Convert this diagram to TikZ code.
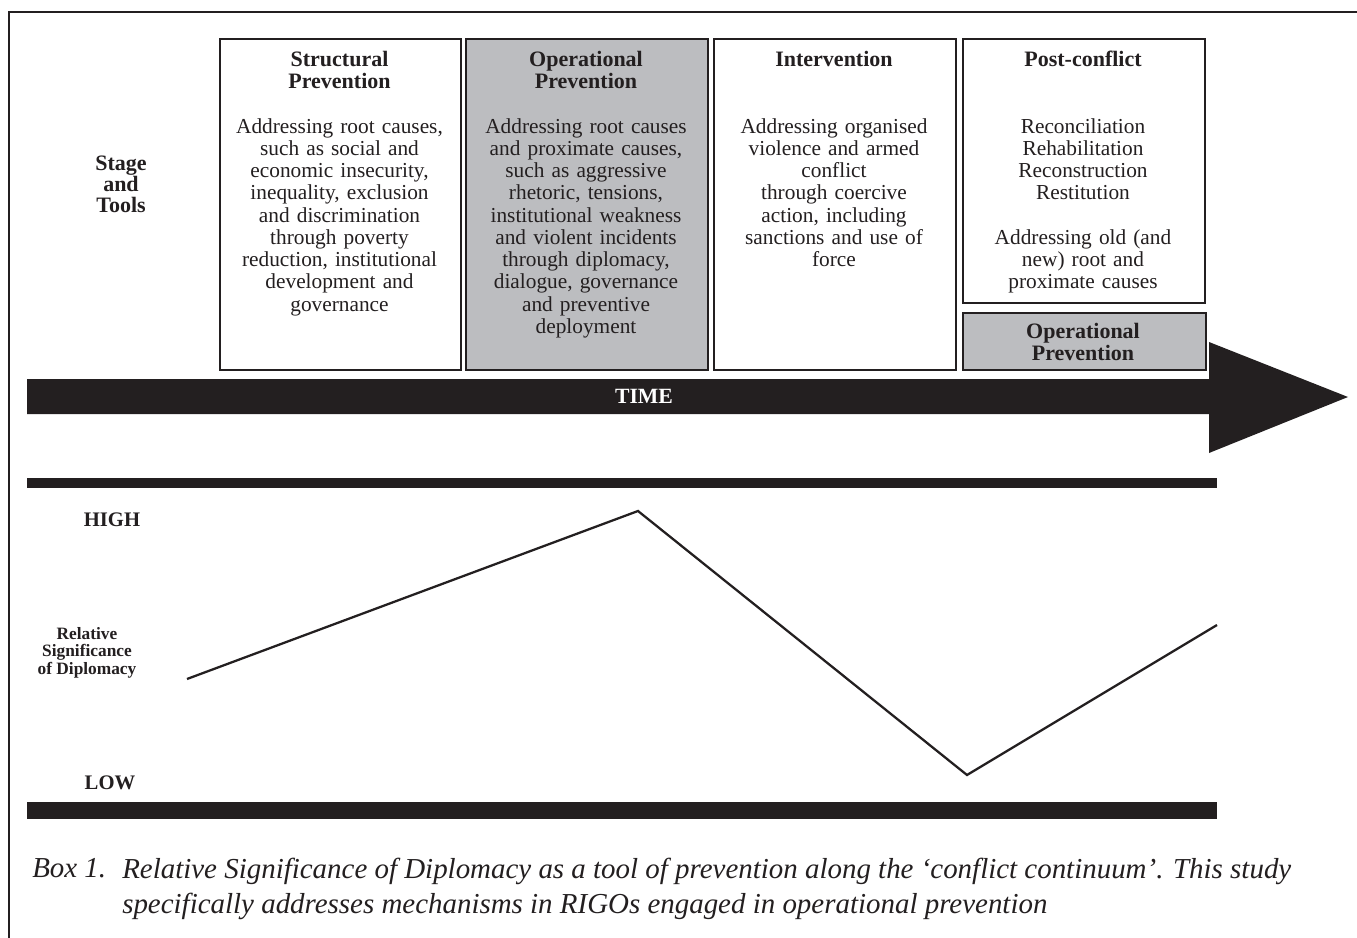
\documentclass[tikz,border=0pt]{standalone}
\usepackage{fontspec}
\setmainfont{Liberation Serif}
\definecolor{ink}{HTML}{231F20}
\definecolor{panel}{HTML}{BCBDC0}
\begin{document}
\begin{tikzpicture}[x=0.75pt,y=-0.75pt,
  stagebox/.style={draw=ink,line width=1.5pt,inner sep=0,anchor=north west},
  headtext/.style={anchor=north,align=center,inner sep=0,text=ink,font=\bfseries\fontsize{16.5}{16.5}\selectfont},
  bodytext/.style={anchor=north,align=center,inner sep=0,text=ink,text width=176pt,font=\fontsize{16}{16.7}\selectfont},
  sidelabel/.style={align=center,inner sep=0,text=ink},
  thickbar/.style={fill=ink}]
\useasboundingbox (0,0) rectangle (1357,938);
\fill[white] (0,0) rectangle (1357,938);
% outer frame
\draw[ink,line width=1pt] (9,940) -- (9,12) -- (1360,12);
% stage boxes
\node[stagebox,fill=white,minimum width=180.75pt,minimum height=248.25pt] (b1) at (219,38) {};
\node[stagebox,fill=panel,minimum width=181.5pt,minimum height=248.25pt] (b2) at (465,38) {};
\node[stagebox,fill=white,minimum width=181.5pt,minimum height=248.25pt] (b3) at (713,38) {};
\node[stagebox,fill=white,minimum width=181.5pt,minimum height=198pt] (b4) at (962,38) {};
\node[stagebox,fill=panel,minimum width=182.25pt,minimum height=42.75pt] (b5) at (962,312) {};
% headings
\node[headtext] (h1) at (339.5,51) {Structural\\Prevention};
\node[headtext] (h2) at (586,51) {Operational\\Prevention};
\node[headtext] (h3) at (834,51) {Intervention};
\node[headtext] (h4) at (1083,51) {Post-conflict};
\node[headtext] (h5) at (1083,323) {Operational\\Prevention};
% bodies
\node[bodytext] (t1) at (339.5,118) {Addressing root causes,\\ such as social and\\ economic insecurity,\\ inequality, exclusion\\ and discrimination\\ through poverty\\ reduction, institutional\\ development and\\ governance};
\node[bodytext] (t2) at (586,118) {Addressing root causes\\ and proximate causes,\\ such as aggressive\\ rhetoric, tensions,\\ institutional weakness\\ and violent incidents\\ through diplomacy,\\ dialogue, governance\\ and preventive\\ deployment};
\node[bodytext] (t3) at (834,118) {Addressing organised\\ violence and armed\\ conflict\\ through coercive\\ action, including\\ sanctions and use of\\ force};
\node[bodytext] (t4) at (1083,118) {Reconciliation\\ Rehabilitation\\ Reconstruction\\ Restitution\\[16.7pt] Addressing old (and\\ new) root and\\ proximate causes};
% left label
\node[sidelabel,anchor=north,font=\bfseries\fontsize{16.5}{15.75}\selectfont] (stage) at (121,156) {Stage\\and\\Tools};
% time arrow
\fill[ink] (27,379) -- (1209,379) -- (1209,342) -- (1348,397) -- (1209,453) -- (1209,414) -- (27,414) -- cycle;
\node[anchor=base,inner sep=0,text=white,font=\bfseries\fontsize{16.3}{16.3}\selectfont] (time) at (644,403) {TIME};
% bars
\fill[thickbar] (27,478) rectangle (1217,488);
\fill[thickbar] (27,802) rectangle (1217,819);
% axis labels
\node[sidelabel,anchor=base,font=\bfseries\fontsize{15.5}{15.5}\selectfont] (high) at (112,526) {HIGH};
\node[sidelabel,anchor=base,font=\bfseries\fontsize{15.5}{15.5}\selectfont] (low) at (110,789) {LOW};
\node[sidelabel,anchor=north,font=\bfseries\fontsize{13}{13.1}\selectfont] (rel) at (87,627) {Relative\\Significance\\of Diplomacy};
% curve
\coordinate (p0) at (187,679);
\coordinate (p1) at (638,511);
\coordinate (p2) at (967,775);
\coordinate (p3) at (1217,625);
\draw[ink,line width=1.7pt] (p0) -- (p1) -- (p2) -- (p3);
% caption
\node[anchor=base west,inner sep=0,text=ink,font=\itshape\fontsize{21.7}{26}\selectfont] (boxno) at (32,877) {Box 1.};
\node[anchor=north west,align=left,inner sep=0,text=ink,font=\itshape\fontsize{21.7}{26.25}\selectfont] (cap) at (122,858) {Relative Significance of Diplomacy as a tool of prevention along the ‘conflict continuum’. This study\\specifically addresses mechanisms in RIGOs engaged in operational prevention};
\end{tikzpicture}
\end{document}
